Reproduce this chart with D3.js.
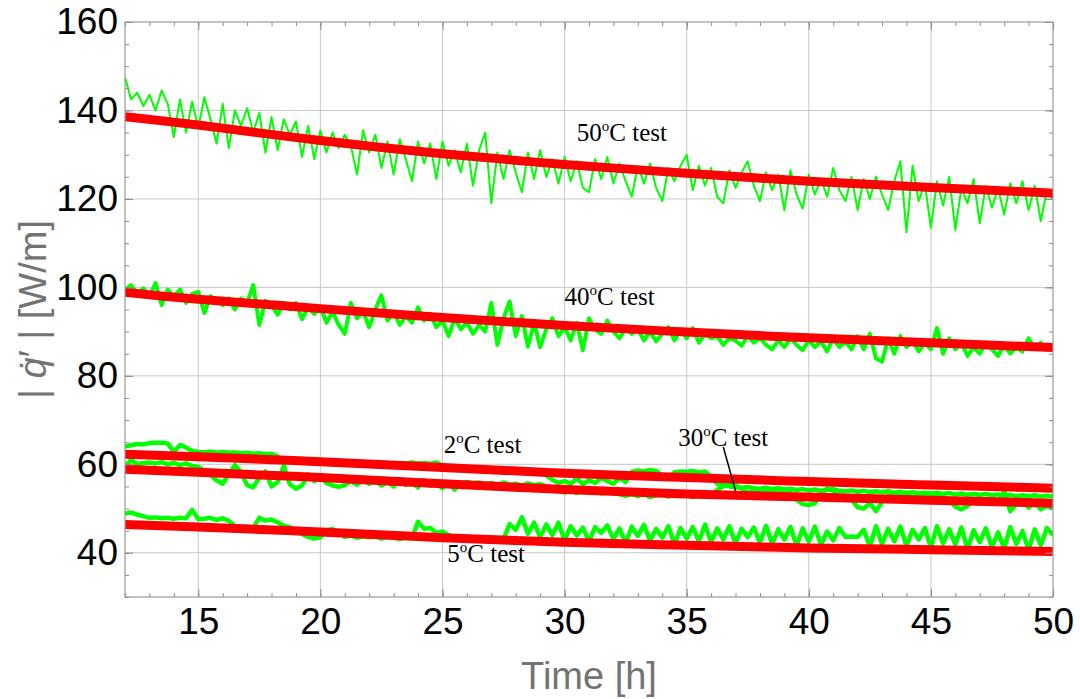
<!DOCTYPE html>
<html>
<head>
<meta charset="utf-8">
<script src="https://cdn.jsdelivr.net/npm/d3@7"></script>
<style>
  body { margin: 0; background: #fff; }
  svg { display: block; }
</style>
</head>
<body>
<script>
// DATA
// measured heat flux samples, one every 0.25 h starting at 12 h
const tStart = 12, tStep = 0.25;

const q50 = [
  147.5,142.5,144.0,141.0, 143.5,140.0,144.5,141.5, 134.0,142.5,135.0,142.0, 136.0,143.0,138.0,132.5,
  141.5,131.5,140.0,136.5, 140.5,135.0,139.5,130.5, 138.5,131.0,138.0,134.5, 137.5,129.5,136.5,129.0,
  135.5,130.5,135.0,131.5, 134.5,132.0,125.5,135.5, 130.5,134.5,127.0,133.0, 125.5,133.5,129.0,124.0,
  133.0,128.0,132.5,124.5, 133.0,127.5,131.0,126.0, 132.5,123.0,131.0,135.0, 119.0,130.5,124.5,131.0,
  126.0,121.5,130.5,124.5, 131.0,125.0,129.0,123.5, 129.5,124.0,128.5,122.5, 121.5,129.0,124.5,129.5,
  123.5,128.0,124.0,120.5, 127.5,123.5,128.0,122.5, 119.5,127.0,124.0,127.5, 130.0,122.0,127.5,123.0,
  127.0,120.5,119.0,126.5, 122.5,126.0,128.5,123.0, 119.5,126.0,122.0,125.5, 117.5,126.5,121.0,117.8,
  125.5,121.0,124.5,120.5, 127.0,122.0,119.5,125.0, 117.5,124.5,120.0,125.0, 121.0,117.5,124.0,128.5,
  112.5,127.5,119.5,123.5, 113.5,124.0,118.5,125.0, 113.0,122.5,119.0,124.5, 114.5,123.0,118.0,122.5,
  116.5,123.5,119.0,124.0, 117.5,123.0,115.0,122.0, 120.0
];

const q40 = [
  99.5,100.5,98.5,99.8, 98.0,101.0,96.0,99.5, 98.0,99.5,96.5,98.5, 99.0,94.2,98.0,97.0,
  96.0,97.5,95.0,97.5, 96.5,100.5,91.5,97.0, 96.0,93.8,96.5,95.0, 96.5,92.8,95.5,94.0,
  95.5,92.0,94.5,91.5, 89.5,96.5,93.0,94.5, 91.0,95.0,98.2,92.5, 94.5,91.5,93.5,92.0,
  95.5,92.5,94.0,91.0, 92.5,89.0,93.0,90.5, 92.0,89.5,91.5,90.0, 96.5,87.0,93.0,96.8,
  89.0,93.5,86.6,92.0, 86.5,90.5,93.0,89.0, 91.0,88.0,92.0,85.8, 93.0,90.5,89.5,92.5,
  90.0,88.5,91.0,89.5, 90.5,88.0,90.0,87.8, 89.5,91.0,88.0,90.5, 88.5,90.8,87.5,89.5,
  88.5,89.0,87.0,88.5, 88.0,86.8,89.0,87.5, 88.5,87.0,86.0,88.0, 86.5,88.5,87.0,85.8,
  88.0,86.5,87.8,85.5, 88.5,86.5,87.8,86.0, 89.0,86.0,89.5,84.0, 83.2,88.5,85.0,89.0,
  86.5,88.0,85.5,87.5, 86.0,90.8,85.0,88.5, 86.0,87.5,84.5,86.5, 85.0,87.5,86.0,84.5,
  87.0,85.0,86.5,85.5, 88.5,86.0,87.5,86.0, 87.0
];

const q2 = [
  64.0,64.3,64.6,64.5, 64.8,64.9,64.9,64.7, 62.8,64.4,63.8,63.0, 62.8,62.7,62.9,62.6,
  62.8,62.6,62.7,62.5, 62.6,62.4,62.5,62.3, 62.4,61.8,60.5,60.6, 60.7,60.5,60.6,60.4,
  60.5,60.4,60.6,60.3, 60.5,60.3,60.4,60.2, 60.3,60.4,60.2,60.1, 60.3,60.1,60.2,60.4,
  60.2,60.3,60.1,60.4, 59.8,59.6,59.4,59.2, 59.0,58.8,58.7,58.9, 58.6,58.5,58.7,58.4,
  58.3,58.2,58.4,58.1, 58.0,57.5,56.5,55.8, 56.2,55.6,56.8,55.5, 56.4,55.8,56.9,56.2,
  55.6,57.0,56.0,58.3, 58.6,58.4,58.7,58.5, 57.4,56.8,58.2,58.4, 58.3,58.5,58.2,58.4,
  57.2,55.6,55.3,55.0, 54.8,54.7,54.9,54.6, 54.5,54.7,54.4,54.6, 54.3,54.5,54.2,54.4,
  54.1,54.3,54.0,54.2, 54.4,54.0,53.9,54.1, 53.8,54.0,53.7,53.9, 53.7,53.9,53.6,53.8,
  53.5,53.7,53.4,53.6, 53.4,53.6,53.3,53.5, 53.2,53.4,53.1,53.3, 53.1,53.3,53.0,53.2,
  52.9,53.1,52.8,53.0, 52.8,53.0,52.7,52.9, 52.8
];

const q30 = [
  59.5,61.0,60.0,60.3, 60.4,60.2,60.5,60.0, 60.3,59.8,60.2,59.6, 59.4,58.5,57.6,56.4,
  55.6,57.8,59.8,58.2, 55.3,54.8,57.0,58.4, 55.0,56.0,59.6,55.5, 54.5,55.2,57.7,56.2,
  57.0,55.8,55.2,54.9, 55.3,56.2,55.4,56.5, 55.6,56.3,55.2,56.0, 55.0,56.6,55.3,55.8,
  54.8,56.4,55.1,55.7, 54.6,55.9,54.3,55.8, 56.0,55.7,55.9,55.5, 55.8,55.3,55.9,55.4,
  55.6,55.2,55.7,55.3, 55.5,55.0,54.4,54.0, 53.6,54.0,53.5,54.1, 53.7,53.9,53.4,53.8,
  53.5,53.2,52.9,53.3, 52.8,53.4,52.6,53.0, 53.2,52.7,53.1,52.8, 53.0,52.6,52.9,52.7,
  53.0,54.2,55.0,55.6, 55.2,54.5,53.6,53.8, 53.5,53.8,53.4,53.6, 53.3,53.6,52.0,51.0,
  50.8,51.2,53.5,54.5, 54.0,52.8,52.5,52.0, 50.3,50.0,51.2,49.4, 51.5,52.9,53.2,52.8,
  53.0,52.7,53.1,52.8, 52.6,52.9,52.4,52.0, 50.4,49.8,50.6,52.0, 52.4,51.8,52.2,51.5,
  53.8,49.4,51.0,51.9, 50.2,51.5,49.8,50.6, 50.0
];

const q5 = [
  48.9,49.1,48.6,48.3, 47.9,48.0,47.8,47.9, 47.7,47.9,47.8,49.7, 47.6,47.7,47.9,47.4,
  47.8,47.2,46.0,45.7, 45.9,45.6,47.9,47.3, 47.5,46.9,46.1,45.8, 44.9,44.2,43.6,43.2,
  43.5,45.1,45.4,44.6, 43.6,43.9,43.4,43.7, 43.5,43.8,43.2,43.6, 43.4,43.1,43.5,43.3,
  47.0,45.4,45.6,44.5, 44.8,44.0,43.5,43.2, 43.3,43.1,43.4,43.0, 43.2,42.9,43.1,46.5,
  45.2,48.0,44.3,46.8, 43.5,46.4,44.0,46.8, 42.8,46.0,43.9,45.7, 42.5,45.8,44.5,46.2,
  43.1,45.5,42.2,45.9, 43.8,46.3,42.7,45.4, 43.4,46.0,41.9,45.6, 43.2,45.8,42.6,46.4,
  42.4,45.5,43.0,46.0, 42.1,45.4,43.5,45.7, 42.3,46.1,42.0,45.3, 43.0,45.8,41.6,45.5,
  42.5,45.9,41.8,44.8, 42.8,45.6,43.6,43.6, 43.6,45.2,41.4,46.0, 42.0,45.4,42.6,45.9,
  41.5,45.2,43.0,45.6, 41.2,46.0,42.1,45.3, 41.9,45.7,40.8,45.1, 42.4,45.5,41.3,44.6,
  41.0,45.8,42.0,44.9, 40.6,45.3,41.7,45.6, 44.0
];

// fitted curves
const fitTimes = [12, 15, 20, 25, 30, 35, 40, 45, 50];
const fit50 = [138.6, 136.7, 133.2, 130.2, 127.8, 125.8, 124.0, 122.6, 121.3];
const fit40 = [98.9, 97.3, 95.2, 93.2, 91.4, 89.9, 88.6, 87.5, 86.4];
const fit2  = [62.3, 61.7, 60.6, 59.3, 58.0, 57.0, 56.1, 55.3, 54.6];
const fit30 = [58.9, 58.2, 57.0, 55.6, 54.3, 53.3, 52.6, 51.9, 51.2];
const fit5  = [46.4, 45.8, 44.7, 43.4, 42.4, 41.7, 41.1, 40.7, 40.3];

const xTicks = [15, 20, 25, 30, 35, 40, 45, 50];
const yTicks = [40, 60, 80, 100, 120, 140, 160];

const notes = [
  {deg: "50", t: 30.5, v: 133.1},
  {deg: "40", t: 30.0, v: 96.0},
  {deg: "2",  t: 25.05, v: 62.5},
  {deg: "30", t: 34.65, v: 64.1},
  {deg: "5",  t: 25.2, v: 37.9}
];
// leader line of the 30 C label
const pointer = [[36.5, 63.9], [37.0, 54.0]];

// D3
const W = 1080, H = 699;
const margin = {top: 22, right: 27, bottom: 102, left: 125};

const svg = d3.select("body").append("svg")
  .attr("width", W).attr("height", H);

const x = d3.scaleLinear().domain([12, 50]).range([margin.left, W - margin.right]);
const y = d3.scaleLinear().domain([30, 160]).range([H - margin.bottom, margin.top]);

const x0 = x.range()[0], x1 = x.range()[1];
const y0 = y.range()[0], y1 = y.range()[1];

// grid
svg.append("g").selectAll("line").data(xTicks.filter(d => d < 50)).enter().append("line")
  .attr("x1", d => x(d)).attr("x2", d => x(d)).attr("y1", y0).attr("y2", y1)
  .attr("stroke", "#c6c6c6").attr("stroke-width", 1);
svg.append("g").selectAll("line").data(yTicks.filter(d => d < 160)).enter().append("line")
  .attr("y1", d => y(d)).attr("y2", d => y(d)).attr("x1", x0).attr("x2", x1)
  .attr("stroke", "#c6c6c6").attr("stroke-width", 1);

svg.append("clipPath").attr("id", "plotClip").append("rect")
  .attr("x", x0).attr("y", y1).attr("width", x1 - x0).attr("height", y0 - y1);

const plot = svg.append("g").attr("clip-path", "url(#plotClip)");

const dataLine = d3.line()
  .x((d, i) => x(tStart + i * tStep))
  .y(d => y(d));

const greens = [
  {vals: q50, w: 2},
  {vals: q40, w: 4},
  {vals: q2, w: 4.5},
  {vals: q30, w: 4.5},
  {vals: q5, w: 4.5}
];
greens.forEach(g => {
  plot.append("path").datum(g.vals)
    .attr("d", dataLine)
    .attr("fill", "none").attr("stroke", "#00ff00")
    .attr("stroke-width", g.w).attr("stroke-linejoin", "round");
});

const fitLine = d3.line()
  .x((d, i) => x(fitTimes[i]))
  .y(d => y(d))
  .curve(d3.curveNatural);

[fit50, fit40, fit2, fit30, fit5].forEach(f => {
  plot.append("path").datum(f)
    .attr("d", fitLine)
    .attr("fill", "none").attr("stroke", "#ff0000").attr("stroke-width", 9);
});

// frame and ticks
function styleAxis(g) {
  g.select(".domain").remove();
  g.selectAll(".tick line").attr("stroke", "#8a8a8a");
  g.selectAll("text").attr("font-family", "'Liberation Sans', Arial, sans-serif")
    .attr("font-size", 37).attr("fill", "#000");
}
const minorX = d3.range(12, 51, 1);
const minorY = d3.range(30, 161, 5);

svg.append("g").attr("transform", `translate(0,${y0})`)
  .call(d3.axisBottom(x).tickValues(minorX).tickSize(-4).tickFormat(""))
  .call(styleAxis);
svg.append("g").attr("transform", `translate(0,${y0})`)
  .call(d3.axisBottom(x).tickValues(xTicks).tickSize(-8).tickPadding(11))
  .call(styleAxis);
svg.append("g").attr("transform", `translate(0,${y1})`)
  .call(d3.axisTop(x).tickValues(minorX).tickSize(-4).tickFormat(""))
  .call(styleAxis);
svg.append("g").attr("transform", `translate(0,${y1})`)
  .call(d3.axisTop(x).tickValues(xTicks).tickSize(-8).tickFormat(""))
  .call(styleAxis);
svg.append("g").attr("transform", `translate(${x0},0)`)
  .call(d3.axisLeft(y).tickValues(minorY).tickSize(-4).tickFormat(""))
  .call(styleAxis);
svg.append("g").attr("transform", `translate(${x0},0)`)
  .call(d3.axisLeft(y).tickValues(yTicks).tickSize(-8).tickPadding(7))
  .call(styleAxis);
svg.append("g").attr("transform", `translate(${x1},0)`)
  .call(d3.axisRight(y).tickValues(minorY).tickSize(-4).tickFormat(""))
  .call(styleAxis);
svg.append("g").attr("transform", `translate(${x1},0)`)
  .call(d3.axisRight(y).tickValues(yTicks).tickSize(-8).tickFormat(""))
  .call(styleAxis);

svg.append("rect")
  .attr("x", x0).attr("y", y1).attr("width", x1 - x0).attr("height", y0 - y1)
  .attr("fill", "none").attr("stroke", "#9a9a9a").attr("stroke-width", 1.2);

// axis titles
svg.append("text")
  .attr("x", (x0 + x1) / 2).attr("y", 689)
  .attr("text-anchor", "middle")
  .attr("font-family", "'Liberation Sans', Arial, sans-serif")
  .attr("font-size", 38).attr("fill", "#737373")
  .text("Time [h]");

const yTitle = svg.append("text")
  .attr("transform", `translate(46,${(y0 + y1) / 2}) rotate(-90)`)
  .attr("text-anchor", "middle")
  .attr("font-family", "'Liberation Sans', Arial, sans-serif")
  .attr("font-size", 38).attr("fill", "#737373");
yTitle.append("tspan").text("| ");
yTitle.append("tspan").attr("font-style", "italic").text("q\u0307");
yTitle.append("tspan").text("\u2032 |  [W/m]");

// annotations
notes.forEach(n => {
  const t = svg.append("text")
    .attr("x", x(n.t)).attr("y", y(n.v))
    .attr("font-family", "'Liberation Serif', 'Times New Roman', serif")
    .attr("font-size", 25).attr("fill", "#000");
  t.append("tspan").text(n.deg);
  t.append("tspan").attr("font-size", 15).attr("dy", -10).text("o");
  t.append("tspan").attr("dy", 10).text("C test");
});

svg.append("line")
  .attr("x1", x(pointer[0][0])).attr("y1", y(pointer[0][1]))
  .attr("x2", x(pointer[1][0])).attr("y2", y(pointer[1][1]))
  .attr("stroke", "#000").attr("stroke-width", 1.5);
</script>
</body>
</html>
